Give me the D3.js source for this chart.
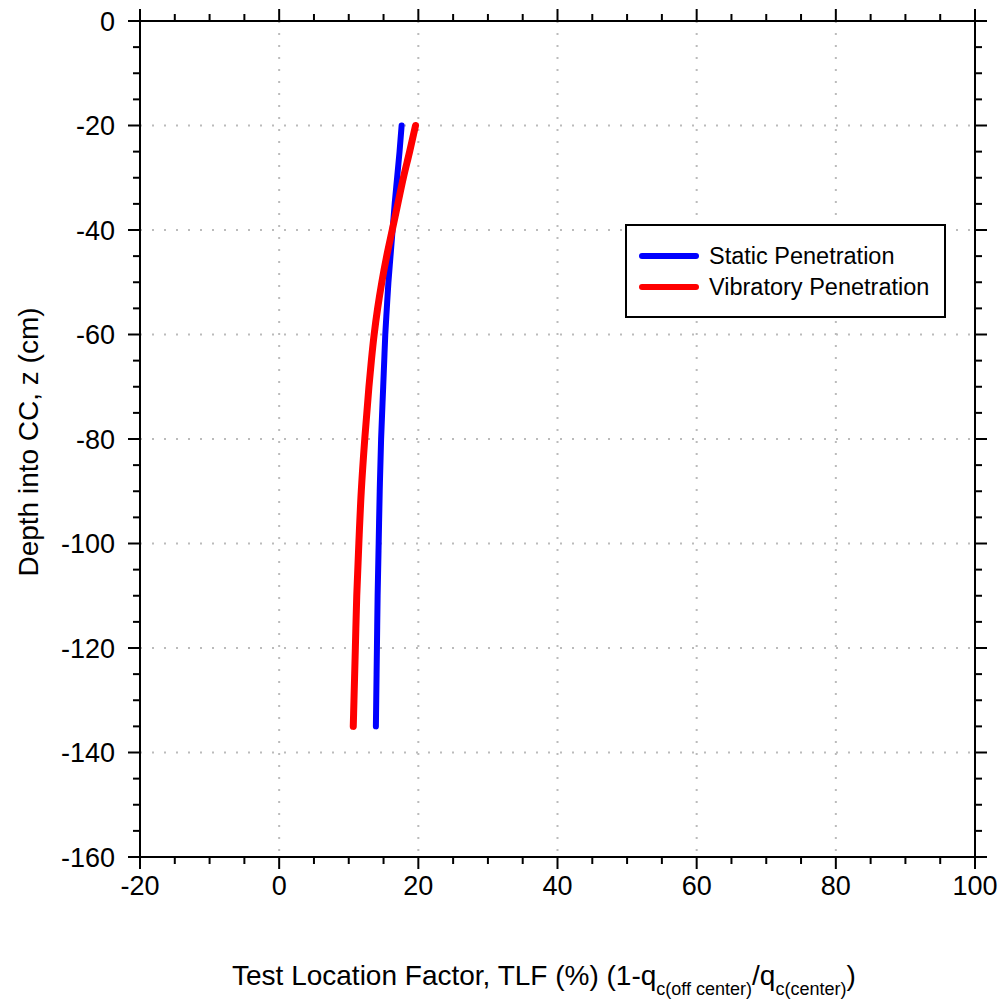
<!DOCTYPE html>
<html>
<head>
<meta charset="utf-8">
<script src="https://cdn.jsdelivr.net/npm/d3@7"></script>
<style>
  body { margin: 0; background: #fff; }
  svg { display: block; font-family: "Liberation Sans", Arial, sans-serif; }
</style>
</head>
<body>
<svg id="chart" width="1005" height="1006"></svg>
<script>
// depth (cm) and TLF (%)
const depths = [-20, -25, -30, -35, -40, -45, -50, -55, -60, -65, -70, -80, -90, -100, -110, -120, -130, -135];
const staticTLF = [17.6, 17.3, 16.95, 16.6, 16.3, 16.0, 15.7, 15.47, 15.25, 15.1, 14.95, 14.65, 14.45, 14.3, 14.15, 14.05, 13.95, 13.9];
const vibratoryTLF = [19.6, 18.75, 17.85, 17.05, 16.25, 15.45, 14.75, 14.15, 13.65, 13.25, 12.9, 12.3, 11.8, 11.45, 11.15, 10.95, 10.75, 10.65];

const xTicks = [-20, 0, 20, 40, 60, 80, 100];
const yTicks = [0, -20, -40, -60, -80, -100, -120, -140, -160];
const seriesNames = ["Static Penetration", "Vibratory Penetration"];
const seriesColors = ["#0000ff", "#ff0000"];

const svg = d3.select("#chart");
const margin = { left: 140, right: 30, top: 21, bottom: 149 };
const W = 1005, H = 1006;

const x = d3.scaleLinear().domain([-20, 100]).range([margin.left, W - margin.right]);
const y = d3.scaleLinear().domain([0, -160]).range([margin.top, H - margin.bottom]);

const minorX = d3.range(-20, 100.1, 5);
const minorY = d3.range(0, -160.1, -5);

// dotted grid at interior major ticks
const grid = svg.append("g")
  .attr("stroke", "#bbb")
  .attr("stroke-width", 2)
  .attr("stroke-dasharray", "2,10")
  .attr("stroke-linecap", "butt");
grid.selectAll("line.gx")
  .data(xTicks.filter(d => d > -20 && d < 100))
  .join("line")
  .attr("x1", d => x(d)).attr("x2", d => x(d))
  .attr("y1", y(0)).attr("y2", y(-160));
grid.selectAll("line.gy")
  .data(yTicks.filter(d => d < 0 && d > -160))
  .join("line")
  .attr("y1", d => y(d)).attr("y2", d => y(d))
  .attr("x1", x(-20)).attr("x2", x(100));

// frame
svg.append("rect")
  .attr("x", x(-20)).attr("y", y(0))
  .attr("width", x(100) - x(-20)).attr("height", y(-160) - y(0))
  .attr("fill", "none").attr("stroke", "#000").attr("stroke-width", 2);

const majorLen = 12, minorLen = 7;
const ticks = svg.append("g").attr("stroke", "#000").attr("stroke-width", 2);
minorX.forEach(v => {
  const len = xTicks.includes(v) ? majorLen : minorLen;
  ticks.append("line").attr("x1", x(v)).attr("x2", x(v)).attr("y1", y(-160)).attr("y2", y(-160) + len);
  ticks.append("line").attr("x1", x(v)).attr("x2", x(v)).attr("y1", y(0)).attr("y2", y(0) - len);
});
minorY.forEach(v => {
  const len = yTicks.includes(v) ? majorLen : minorLen;
  ticks.append("line").attr("y1", y(v)).attr("y2", y(v)).attr("x1", x(-20)).attr("x2", x(-20) - len);
  ticks.append("line").attr("y1", y(v)).attr("y2", y(v)).attr("x1", x(100)).attr("x2", x(100) + len);
});

// tick labels
svg.append("g").selectAll("text")
  .data(xTicks)
  .join("text")
  .attr("x", d => x(d))
  .attr("y", y(-160) + 38)
  .attr("text-anchor", "middle")
  .attr("font-size", 27)
  .text(d => d);
svg.append("g").selectAll("text")
  .data(yTicks)
  .join("text")
  .attr("x", x(-20) - 25)
  .attr("y", d => y(d))
  .attr("dy", "0.36em")
  .attr("text-anchor", "end")
  .attr("font-size", 27)
  .text(d => d);

// axis titles
svg.append("text")
  .attr("transform", `translate(38,${(y(0) + y(-160)) / 2 + 3}) rotate(-90)`)
  .attr("text-anchor", "middle")
  .attr("font-size", 28)
  .text("Depth into CC, z (cm)");

const xt = svg.append("text")
  .attr("x", 232).attr("y", 985)
  .attr("font-size", 28);
xt.append("tspan").text("Test Location Factor, TLF (%) (1-q");
xt.append("tspan").attr("dy", 10).attr("font-size", 18).text("c(off center)");
xt.append("tspan").attr("dy", -10).text("/q");
xt.append("tspan").attr("dy", 10).attr("font-size", 18).text("c(center)");
xt.append("tspan").attr("dy", -10).text(")");

// series
const line = d3.line()
  .x(d => x(d[0]))
  .y(d => y(d[1]))
  .curve(d3.curveMonotoneY);
const seriesData = [staticTLF, vibratoryTLF].map(vals => vals.map((v, i) => [v, depths[i]]));
svg.append("g").selectAll("path")
  .data(seriesData)
  .join("path")
  .attr("d", line)
  .attr("fill", "none")
  .attr("stroke", (d, i) => seriesColors[i])
  .attr("stroke-width", (d, i) => i === 0 ? 6 : 7)
  .attr("stroke-linecap", "round")
  .attr("stroke-linejoin", "round");

// legend
const lg = svg.append("g").attr("transform", "translate(626,225)");
lg.append("rect")
  .attr("width", 319).attr("height", 92)
  .attr("fill", "#fff").attr("stroke", "#000").attr("stroke-width", 2);
seriesNames.forEach((name, i) => {
  const ly = 31 + i * 31;
  lg.append("line")
    .attr("x1", 16).attr("x2", 70).attr("y1", ly).attr("y2", ly)
    .attr("stroke", seriesColors[i]).attr("stroke-width", 6).attr("stroke-linecap", "round");
  lg.append("text")
    .attr("x", 83).attr("y", ly).attr("dy", "0.36em")
    .attr("font-size", 23.5)
    .text(name);
});
</script>
</body>
</html>
